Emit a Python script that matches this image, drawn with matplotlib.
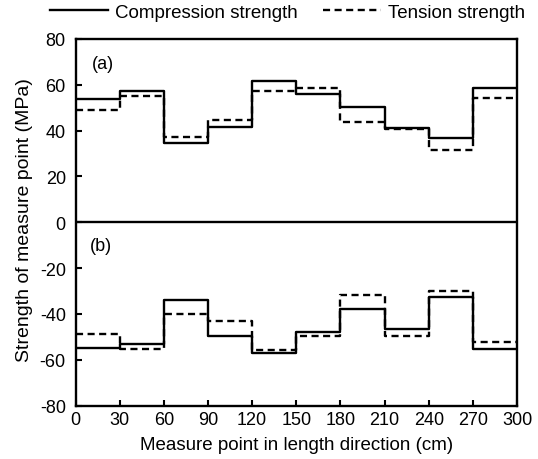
import matplotlib
matplotlib.use("Agg")
import matplotlib.pyplot as plt
import numpy as np

plt.rcParams["font.family"] = ["Liberation Sans", "DejaVu Sans"]
plt.rcParams["axes.unicode_minus"] = False

# segment edges along the length (cm)
edges = [0, 30, 60, 90, 120, 150, 180, 210, 240, 270, 300]

# (a) upper panel
comp_a = [53.6, 57.3, 34.5, 41.5, 61.8, 55.9, 50.5, 41.3, 36.9, 58.5]
tens_a = [49.0, 55.1, 37.0, 44.6, 57.3, 58.8, 43.6, 40.7, 31.6, 54.2]

# (b) lower panel
comp_b = [-54.7, -53.3, -33.9, -49.5, -57.1, -48.0, -37.7, -46.7, -32.6, -55.5]
tens_b = [-48.9, -55.5, -40.0, -42.9, -55.6, -49.6, -31.8, -49.5, -30.2, -52.4]

LW = 1.7
DASH = (0, (3.0, 1.9))


def stairs(ax, vals, **kw):
    ys = list(vals) + [vals[-1]]
    return ax.step(edges, ys, where="post", color="black", linewidth=LW, **kw)


fig = plt.figure(figsize=(5.38, 4.60), dpi=100)
ax = fig.add_axes([75.5 / 538, 1 - 406.5 / 460, 441.5 / 538, 366.5 / 460])

(h_comp,) = stairs(ax, comp_a, linestyle="-")
(h_tens,) = stairs(ax, tens_a, linestyle=DASH)
stairs(ax, comp_b, linestyle="-")
stairs(ax, tens_b, linestyle=DASH)

ax.axhline(0, color="black", linewidth=LW)

ax.set_xlim(0, 300)
ax.set_ylim(-80, 80)
ax.set_xticks(edges)
ax.set_yticks(np.arange(-80, 81, 20))
ax.tick_params(direction="in", length=4, width=1.5, labelsize=13)
ax.tick_params(axis="y", pad=7)
ax.tick_params(axis="x", pad=4)
for sp in ax.spines.values():
    sp.set_linewidth(1.7)

ax.set_xlabel("Measure point in length direction (cm)", fontsize=13.5, labelpad=6)
ax.set_ylabel("Strength of measure point (MPa)", fontsize=14)
ax.yaxis.set_label_coords(-0.097, 0.51)

ax.text(0.037, 0.933, "(a)", transform=ax.transAxes, fontsize=13, va="center")
ax.text(0.033, 0.437, "(b)", transform=ax.transAxes, fontsize=13, va="center")

fig.legend(
    [h_comp, h_tens],
    ["Compression strength", "Tension strength"],
    loc="center left",
    bbox_to_anchor=(50 / 538, 1 - 13 / 460),
    ncol=2,
    frameon=False,
    fontsize=13.5,
    handlelength=3.1,
    handletextpad=0.37,
    columnspacing=1.35,
    borderaxespad=0,
    borderpad=0,
)

fig.savefig("out.png", dpi=100)
